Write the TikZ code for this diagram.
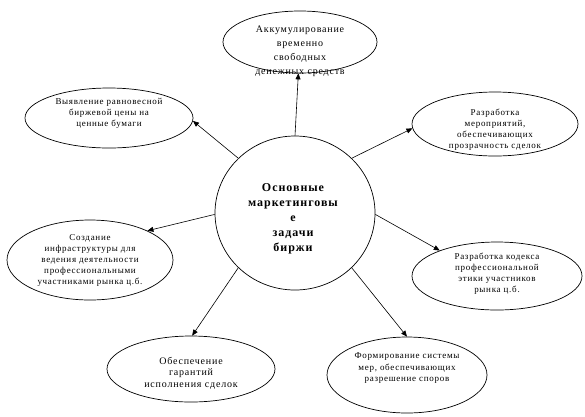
\documentclass[tikz,border=0pt]{standalone}
\usepackage{fontspec}
\setmainfont{Liberation Serif}[LetterSpace=8]
\usetikzlibrary{shapes.geometric,arrows.meta}
\tikzset{
  ell/.style={draw, ellipse, line width=0.7pt, inner sep=0pt},
  txt/.style={align=center, inner sep=0pt, font=\fontsize{9}{11}\selectfont},
  conn/.style={line width=0.6pt, -{Triangle[length=6pt,width=5pt]}}
}
\begin{document}
\begin{tikzpicture}[x=1pt,y=-1pt]
\useasboundingbox (0,0) rectangle (585,416);
% centre
\node[ell, minimum width=160, minimum height=154] (c) at (295,213) {};
\node[txt, font=\fontsize{12}{15}\selectfont\bfseries] (ct) at (293,219)
  {Основные\\ маркетинговы\\ е\\ задачи\\ биржи};
% ellipses
\node[ell, minimum width=154, minimum height=62] (e1) at (300,42) {};
\node[txt, font=\fontsize{10}{14}\selectfont] (t1) at (300,51)
  {Аккумулирование\\ временно\\ свободных\\ денежных средств};
\node[ell, minimum width=168, minimum height=60] (e2) at (109,118) {};
\node[txt] (t2) at (109,113)
  {Выявление равновесной\\ биржевой цены на\\ ценные бумаги};
\node[ell, minimum width=166, minimum height=64] (e3) at (495,124) {};
\node[txt] (t3) at (495,130)
  {Разработка\\ мероприятий,\\ обеспечивающих\\ прозрачность сделок};
\node[ell, minimum width=166, minimum height=80] (e4) at (90,260) {};
\node[txt] (t4) at (90,260)
  {Создание\\ инфраструктуры для\\ ведения деятельности\\ профессиональными\\ участниками рынка ц.б.};
\node[ell, minimum width=170, minimum height=68] (e5) at (497,276) {};
\node[txt] (t5) at (497,274)
  {Разработка кодекса\\ профессиональной\\ этики участников\\ рынка ц.б.};
\node[ell, minimum width=168, minimum height=66] (e6) at (191,369) {};
\node[txt, font=\fontsize{10}{11.5}\selectfont] (t6) at (191,373)
  {Обеспечение\\ гарантий\\ исполнения сделок};
\node[ell, minimum width=160, minimum height=76] (e7) at (407,375) {};
\node[txt] (t7) at (407,368)
  {Формирование системы\\ мер, обеспечивающих\\ разрешение споров};
% connectors
\draw[conn] (c.90) -- (e1.-93);
\draw[conn] (c.136) -- (e2.-2);
\draw[conn] (c.44) -- (e3.183);
\draw[conn] (c.181) -- (e4.27);
\draw[conn] (c.-1) -- (e5.156);
\draw[conn] (c.-136) -- (e6.88);
\draw[conn] (c.-44) -- (e7.90);
\end{tikzpicture}
\end{document}
